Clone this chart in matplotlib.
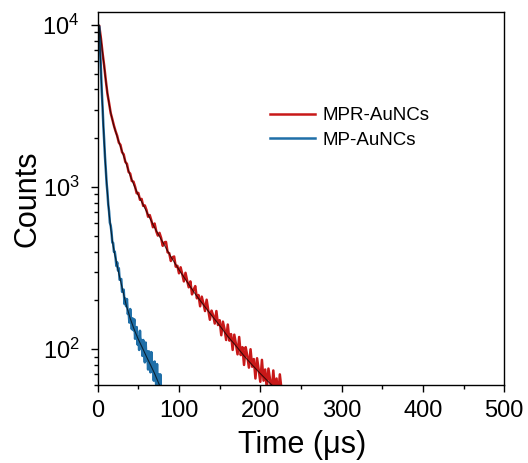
import matplotlib
matplotlib.use("Agg")
import matplotlib.pyplot as plt

# time-resolved PL decay, counts per time bin
t_mpr = list(range(2, 230, 2))
counts_mpr = [9800, 8250, 6700, 5600, 4550, 3760, 3300, 2860, 2620, 2390,
              2210, 2070, 1880, 1820, 1640, 1590, 1430, 1390, 1240, 1210,
              1090, 1080, 1005, 915, 920, 835, 845, 765, 770,
              722, 656, 672, 623, 565, 596, 535, 502, 522, 486,
              434, 456, 459, 396, 391, 350, 369, 373, 323, 327,
              294, 320, 291, 262, 296, 265, 241, 262, 218, 233,
              245, 206, 216, 184, 211, 192, 172, 202, 174, 152,
              173, 162, 144, 172, 141, 151, 122, 148, 133, 114,
              142, 113, 124, 99, 123, 108, 93, 119, 92, 103,
              80, 103, 91, 77, 100, 78, 87, 66, 88, 75,
              63, 86, 64, 75, 57, 76, 65, 54, 74, 56,
              66, 50, 70, 57, 48]

t_mp = list(range(2, 79))
counts_mp = [9700, 7020, 5300, 3940, 3120, 2380, 1930, 1530, 1280, 1055,
             930, 780, 708, 603, 580, 528, 455, 452,
             399, 400, 367, 326, 343, 306, 316, 268, 268, 271,
             226, 233, 233, 190, 205, 184, 204, 165, 171, 146,
             177, 152, 133, 155, 131, 153, 116, 133, 137, 107,
             120, 99, 130, 104, 114, 91, 114, 99, 83, 110,
             85, 97, 75, 97, 84, 72, 96, 73, 83, 64,
             84, 70, 60, 81, 59, 70, 54, 70, 52]

# fitted decay curves (black lines)
t_fit_mpr = [2, 4, 6, 8, 10, 12, 14, 16, 18, 20, 25, 30, 35, 40, 45, 50,
             60, 70, 80, 90, 100, 110, 120, 130, 140, 150, 160, 170, 180,
             190, 200, 210, 220, 230]
fit_mpr = [10000, 8220, 6760, 5560, 4520, 3800, 3270, 2880, 2600, 2370,
           1970, 1660, 1396, 1175, 1017, 890, 708, 562, 457, 372, 309,
           260, 219, 188, 162, 140, 120, 105, 91, 80, 70.8, 63, 56.5, 51]

t_fit_mp = [2, 3, 4, 5, 6, 7, 8, 9, 10, 12, 14, 16, 18, 20, 25, 30, 35,
            40, 45, 50, 55, 60, 65, 70, 75, 80]
fit_mp = [9500, 7080, 5250, 3980, 3090, 2400, 1905, 1550, 1260, 912, 692,
          562, 468, 407, 309, 240, 188, 155, 132, 115, 102, 90, 80, 70.8,
          61.7, 54]

x_ticks = [0, 100, 200, 300, 400, 500]
y_ticks = [1e2, 1e3, 1e4]
y_tick_labels = ["$10^2$", "$10^3$", "$10^4$"]


def main():
    plt.rcParams["font.family"] = ["Liberation Sans", "DejaVu Sans"]
    plt.rcParams["mathtext.fontset"] = "custom"
    plt.rcParams["mathtext.rm"] = "Liberation Sans"
    plt.rcParams["mathtext.default"] = "regular"

    fig = plt.figure(figsize=(5.28, 4.63), dpi=100)
    ax = fig.add_axes([0.185, 0.168, 0.77, 0.806])

    ax.plot(t_mpr, counts_mpr, color="#C81818", lw=1.8, label="MPR-AuNCs")
    ax.plot(t_mp, counts_mp, color="#1F6FA8", lw=1.8, label="MP-AuNCs")
    ax.plot(t_fit_mpr, fit_mpr, color="black", lw=0.8, alpha=0.7)
    ax.plot(t_fit_mp, fit_mp, color="black", lw=0.8, alpha=0.7)

    ax.set_yscale("log")
    ax.set_xlim(0, 500)
    ax.set_ylim(60, 12000)
    ax.set_xticks(x_ticks)
    ax.set_xticks(range(50, 500, 100), minor=True)
    ax.set_yticks(y_ticks)
    ax.set_yticklabels(y_tick_labels)

    ax.tick_params(which="both", direction="out", top=False, right=False,
                   width=1, labelsize=17)
    ax.tick_params(which="major", length=5)
    ax.tick_params(which="minor", length=3)
    ax.tick_params(axis="y", which="major", pad=8)
    ax.tick_params(axis="x", which="major", pad=6)
    for s in ax.spines.values():
        s.set_linewidth(1)

    ax.set_xlabel("Time (\u03bcs)", fontsize=22)
    ax.set_ylabel("Counts", fontsize=22)
    ax.xaxis.set_label_coords(0.502, -0.16)
    ax.xaxis.label.set_va("center")
    ax.yaxis.set_label_coords(-0.173, 0.5)
    ax.yaxis.label.set_va("center")

    ax.legend(loc="center left", bbox_to_anchor=(270 / 528, 1 - 128 / 463),
              bbox_transform=fig.transFigure, frameon=False, fontsize=13.5,
              handlelength=2.4, handletextpad=0.4, labelspacing=0.4,
              borderpad=0, borderaxespad=0)

    fig.savefig("out.png", dpi=100)


if __name__ == "__main__":
    main()
